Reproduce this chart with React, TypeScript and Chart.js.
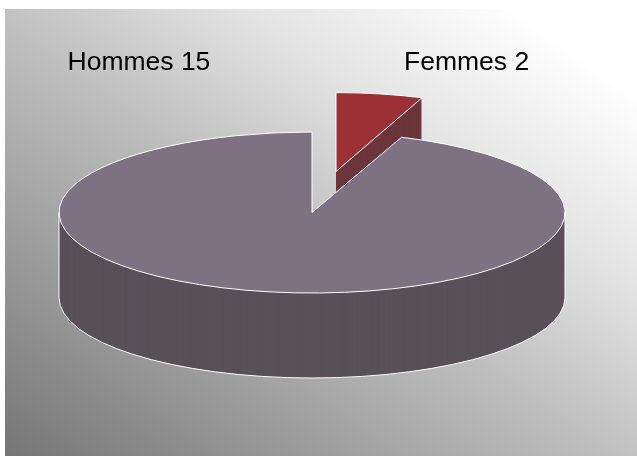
import React, { useEffect, useRef } from "react";
import { Chart, registerables } from "chart.js";

Chart.register(...registerables);

const categories = ["Femmes", "Hommes"];
const values = [2, 15];
const topColors = ["#9b3036", "#7d7182"];
const sideColors = ["#6c353a", "#595158"];

const CX = 312;
const CY = 212.5;
const RX = 253;
const RY = 80.5;
const DEPTH = 85;
const EXPLODE = [
  [24, -41],
  [0, 0],
];
const SLICE_SCALE_X = [0.96, 1];
const SLICE_SCALE_Y = [0.98, 1];
// The source's perspective squeezes the small wedge's apparent sweep.
const FORESHORTEN = 0.49;

function applyView(ctx: CanvasRenderingContext2D, el: any, dx: number, dy: number, i: number) {
  ctx.translate(CX + dx, CY + dy);
  ctx.scale((SLICE_SCALE_X[i] * RX) / el.outerRadius, (SLICE_SCALE_Y[i] * RY) / el.outerRadius);
  ctx.translate(-el.x, -el.y);
}

function wedgePath(ctx: CanvasRenderingContext2D, el: any, dx: number, dy: number, i: number) {
  ctx.save();
  applyView(ctx, el, dx, dy, i);
  ctx.beginPath();
  ctx.arc(el.x, el.y, el.outerRadius, el.startAngle, el.endAngle);
  ctx.lineTo(el.x, el.y);
  ctx.closePath();
  ctx.restore();
}

const pie3d = {
  id: "pie3d",
  beforeDraw(chart: any) {
    const { ctx, width, height } = chart;
    ctx.save();
    ctx.fillStyle = "#ffffff";
    ctx.fillRect(0, 0, width, height);
    const g = ctx.createLinearGradient(110, 530.5, 532, -65.5);
    g.addColorStop(0, "#767676");
    g.addColorStop(0.5, "#c2c2c2");
    g.addColorStop(0.68, "#e2e2e2");
    g.addColorStop(0.9, "#fefefe");
    g.addColorStop(1, "#ffffff");
    ctx.fillStyle = g;
    ctx.fillRect(5, 9, width - 5, height - 9);
    ctx.restore();
  },
  afterDatasetsUpdate(chart: any) {
    const arcs = chart.getDatasetMeta(0).data;
    const total = values.reduce((a, b) => a + b, 0);
    let start = -Math.PI / 2;
    arcs.forEach((el: any, i: number) => {
      const share = (values[i] / total) * Math.PI * 2;
      const sweep = i === 0 ? share * FORESHORTEN : Math.PI * 2 - (values[0] / total) * Math.PI * 2 * FORESHORTEN;
      el.startAngle = start;
      el.endAngle = start + sweep;
      el.circumference = sweep;
      start += sweep;
    });
  },
  beforeDatasetsDraw(chart: any) {
    const ctx: CanvasRenderingContext2D = chart.ctx;
    const arcs = chart.getDatasetMeta(0).data;
    arcs.forEach((el: any, i: number) => {
      const [dx, dy] = EXPLODE[i];
      const topOptions = el.options;
      el.options = { ...topOptions, backgroundColor: sideColors[i], borderWidth: 0 };
      for (let d = DEPTH; d > 0; d--) {
        ctx.save();
        applyView(ctx, el, dx, dy + d, i);
        el.draw(ctx);
        ctx.restore();
      }
      el.options = { ...topOptions, backgroundColor: topColors[i], borderWidth: 0 };
      ctx.save();
      applyView(ctx, el, dx, dy, i);
      el.draw(ctx);
      ctx.restore();
      el.options = topOptions;

      ctx.strokeStyle = "#ffffff";
      ctx.lineWidth = 1;
      if (i === 1) {
        // outer contour of the wall
        ctx.save();
        applyView(ctx, el, dx, dy + DEPTH, i);
        ctx.beginPath();
        ctx.arc(el.x, el.y, el.outerRadius, 0, Math.PI);
        ctx.restore();
        ctx.lineTo(CX - RX, CY);
        ctx.moveTo(CX + RX, CY);
        ctx.lineTo(CX + RX, CY + DEPTH);
        ctx.stroke();
      }
      wedgePath(ctx, el, dx, dy, i);
      ctx.stroke();
    });
    return false;
  },
  afterDraw(chart: any) {
    const { ctx } = chart;
    ctx.save();
    ctx.fillStyle = "#000000";
    ctx.font = "26.5px 'Liberation Sans'";
    ctx.textBaseline = "alphabetic";
    ctx.textAlign = "left";
    ctx.fillText(`${categories[1]} ${values[1]}`, 67.5, 70);
    ctx.fillText(`${categories[0]} ${values[0]}`, 404, 70);
    ctx.restore();
  },
};

export default function App() {
  const ref = useRef<HTMLCanvasElement>(null);
  useEffect(() => {
    document.body.style.margin = "0";
    const chart = new Chart(ref.current!, {
      type: "pie",
      data: {
        labels: categories,
        datasets: [{ data: values, backgroundColor: topColors, borderWidth: 0, clip: false } as any],
      },
      options: {
        responsive: false,
        animation: false,
        layout: { padding: 0 },
        plugins: { legend: { display: false }, tooltip: { enabled: false } },
      },
      plugins: [pie3d],
    });
    return () => chart.destroy();
  }, []);
  return <canvas ref={ref} width={637} height={456} style={{ display: "block" }} />;
}
